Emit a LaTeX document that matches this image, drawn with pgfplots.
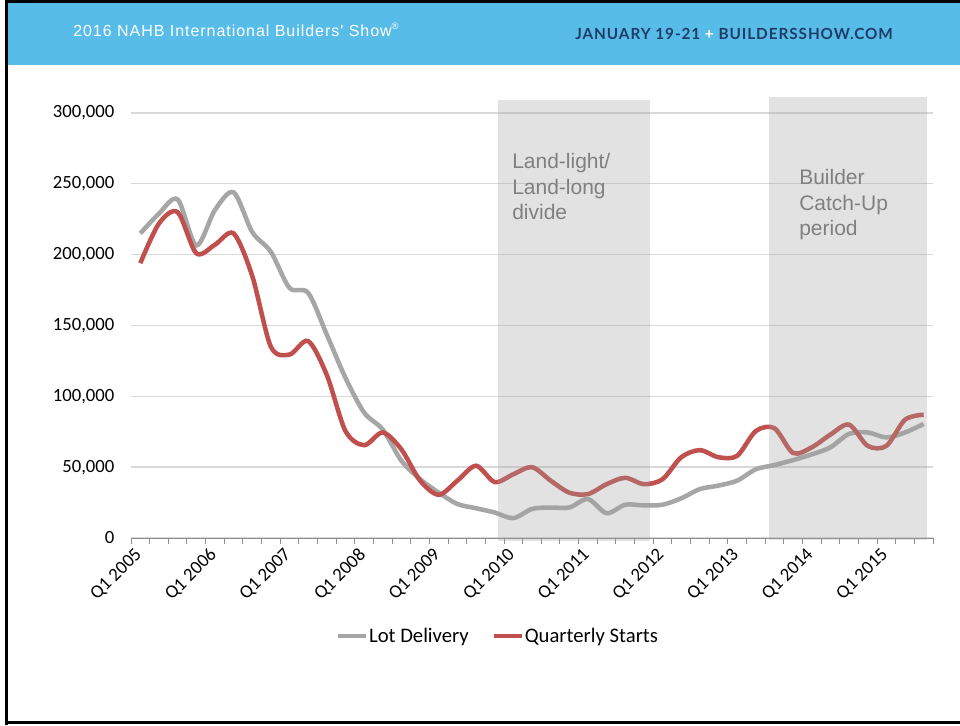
\documentclass[border=0pt]{standalone}
\usepackage{pgfplots}
\usepackage{pgfplotstable}
\pgfplotsset{compat=1.18}
\usepackage{fontspec}
\setmainfont{Carlito}
\newfontfamily\arialf{Liberation Sans}
\newfontfamily\hdrL[LetterSpace=6]{Liberation Sans}
\newfontfamily\hdrR[LetterSpace=6]{Lato}
\definecolor{banner}{HTML}{58BCE9}
\definecolor{navy}{HTML}{1F3C68}
\definecolor{lotgray}{HTML}{A6A6A6}
\definecolor{startred}{HTML}{C0504D}
\definecolor{gridc}{HTML}{D9D9D9}
\definecolor{axisc}{HTML}{8C8C8C}
\definecolor{shadec}{HTML}{A0A0A0}
\definecolor{annot}{HTML}{808080}

\pgfplotstableread{
i lot starts
0 215000 194000
1 229000 222000
2 239000 230000
3 206500 201000
4 231500 207000
5 244000 215000
6 216000 185000
7 202000 135000
8 176500 129500
9 173000 139000
10 143500 115000
11 113000 75500
12 88500 65500
13 76500 74500
14 54500 62500
15 41500 40500
16 32000 30500
17 24000 40500
18 21000 51000
19 18000 39500
20 14000 45000
21 20500 50000
22 21500 40500
23 21500 32000
24 27500 31000
25 17500 38000
26 23500 42500
27 23000 38000
28 23500 41500
29 28000 57000
30 34500 62000
31 37000 57000
32 40500 58000
33 48500 75500
34 51500 77500
35 55000 60000
36 59000 64000
37 64000 73000
38 73500 80000
39 74500 65000
40 71000 65000
41 74500 83500
42 80500 87000
}\datatable

\begin{document}
\begin{tikzpicture}
\path[use as bounding box] (0,0) rectangle (720pt,543.75pt);
\fill[white] (0,0) rectangle (720pt,543.75pt);
\fill[banner] (5.25pt,495pt) rectangle (720pt,541.5pt);
\draw[line width=2.25pt] (4.875pt,0) -- (4.875pt,543.75pt);
\draw[line width=2.25pt] (4pt,542.6pt) -- (720pt,542.6pt);
\draw[line width=2.25pt] (4pt,1.875pt) -- (720pt,1.875pt);
\node[anchor=base west, inner sep=0, text=white, font=\hdrL\fontsize{12}{14}\selectfont] at (54.75pt,516pt)
  {2016 NAHB International Builders' Show\raisebox{0.45em}{\fontsize{7}{7}\selectfont ®}};
\node[anchor=base west, inner sep=0, font=\hdrR\bfseries\fontsize{11.5}{13}\selectfont] at (431.25pt,513.75pt)
  {\textcolor{navy}{JANUARY 19-21} \textcolor{white}{+} \textcolor{navy}{BUILDERSSHOW.COM}};

\begin{axis}[
  at={(98.25pt,140.25pt)}, anchor=south west,
  scale only axis, width=601.5pt, height=318.75pt,
  xmin=-0.5, xmax=42.5, ymin=0, ymax=300000,
  clip=false,
  axis line style={draw=none},
  xtick={0,4,...,40},
  xticklabels={Q1 2005,Q1 2006,Q1 2007,Q1 2008,Q1 2009,Q1 2010,Q1 2011,Q1 2012,Q1 2013,Q1 2014,Q1 2015},
  minor xtick={-0.5,0.5,...,42.5},
  major tick length=0pt, minor tick length=4.5pt,
  tick align=outside,
  xtick pos=bottom, ytick pos=left,
  minor x tick style={axisc, line width=0.75pt},
  ytick={0,50000,...,300000},
  ymajorgrids, major grid style={gridc, line width=1pt},
  scaled y ticks=false,
  tick label style={font=\fontsize{14}{16}\selectfont},
  yticklabel style={/pgf/number format/fixed, /pgf/number format/1000 sep={,}, /pgf/number format/assume math mode=true, xshift=-9pt},
  xticklabel style={xshift=1.5pt, yshift=-8pt, rotate=45, anchor=east},
  legend style={at={(0.457,-0.2306)}, anchor=center, draw=none, fill=none,
    legend columns=2, font=\fontsize{15.5}{18}\selectfont,
    nodes={inner xsep=1pt},
    /tikz/every even column/.append style={column sep=16pt}},
  legend image code/.code={\draw[#1, line width=3pt] (0pt,0pt) -- (21pt,0pt);},
]
\addplot[lotgray, line width=3.4pt, smooth, tension=0.5] table[x=i, y=lot] {\datatable};
\addlegendentry{Lot Delivery}
\addplot[startred, line width=3.4pt, smooth, tension=0.5] table[x=i, y=starts] {\datatable};
\addlegendentry{Quarterly Starts}
\draw[axisc, line width=0.75pt] (axis cs:-0.5,0) -- (axis cs:42.5,0);
\fill[shadec, opacity=0.3] (axis cs:19.18,-2100) rectangle (axis cs:27.33,309200);
\fill[shadec, opacity=0.3] (axis cs:33.71,-1400) rectangle (axis cs:42.18,311300);
\end{axis}

\node[anchor=north west, inner sep=0, align=left, text=annot, font=\arialf\fontsize{15.75}{19.3}\selectfont] at (384pt,429pt) {Land-light/\\Land-long\\divide};
\node[anchor=north west, inner sep=0, align=left, text=annot, font=\arialf\fontsize{15.75}{19.3}\selectfont] at (599.25pt,417pt) {Builder\\Catch-Up\\period};
\end{tikzpicture}
\end{document}
